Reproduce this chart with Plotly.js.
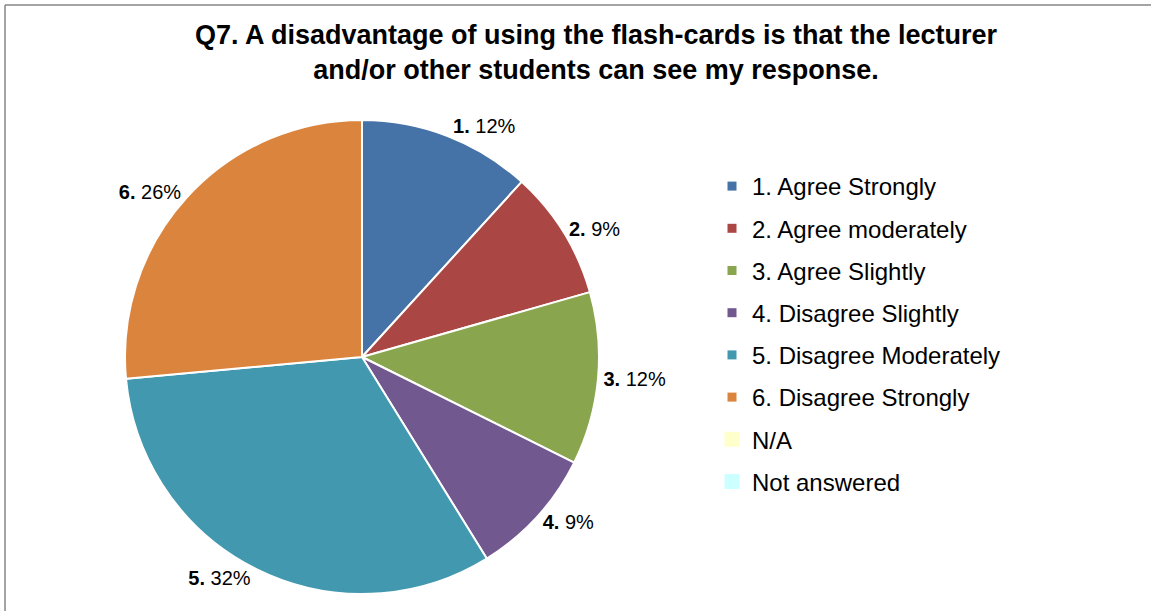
<!DOCTYPE html>
<html>
<head>
<meta charset="utf-8">
<script src="https://cdn.plot.ly/plotly-3.0.1.min.js"></script>
<style>html,body{margin:0;padding:0;background:#fff;}#chart{width:1151px;height:611px;}</style>
</head>
<body>
<div id="chart"></div>
<script>
// ---- data ----
const categories = ["1. Agree Strongly", "2. Agree moderately", "3. Agree Slightly", "4. Disagree Slightly", "5. Disagree Moderately", "6. Disagree Strongly", "N/A", "Not answered"];
const shortLabels = ["1.", "2.", "3.", "4.", "5.", "6.", "", ""];
const counts = [4, 3, 4, 3, 11, 9, 0, 0];
const colors = ["#4572A7", "#AA4643", "#89A54E", "#71588F", "#4198AF", "#DB843D", "#FFFFCC", "#CCFFFF"];
const legendSizes = [9, 9, 9, 9, 9, 9, 15, 15];

const FONT = "Liberation Sans, Arial, sans-serif";

const textTemplates = counts.map((v, i) => v > 0 ? "<b>" + shortLabels[i] + "</b> %{percent:.0%}" : "");

const traces = [{
  type: "pie",
  labels: categories,
  values: counts,
  marker: {colors: colors, line: {color: "#ffffff", width: 2}},
  sort: false,
  direction: "clockwise",
  rotation: 0,
  texttemplate: textTemplates,
  textposition: "outside",
  textfont: {family: FONT, size: 20, color: "#000"},
  outsidetextfont: {family: FONT, size: 20, color: "#000"},
  hoverinfo: "none",
  showlegend: false,
  domain: {x: [125/1151, 599/1151], y: [17/611, 491/611]}
}];

categories.forEach((c, i) => {
  traces.push({
    type: "scatter",
    mode: "markers",
    x: [null], y: [null],
    name: c,
    legendgroup: "g" + i,
    marker: {symbol: "square", size: legendSizes[i], color: colors[i], line: {width: 0}},
    hoverinfo: "none",
    showlegend: true
  });
});

const layout = {
  width: 1151, height: 611,
  margin: {l: 0, r: 0, t: 0, b: 0},
  paper_bgcolor: "#ffffff",
  plot_bgcolor: "rgba(0,0,0,0)",
  font: {family: FONT, color: "#000"},
  title: {
    text: "<b>Q7. A disadvantage of using the flash-cards is that the lecturer<br>and/or other students can see my response.</b>",
    font: {family: FONT, size: 27, color: "#000"},
    x: 596/1151, xanchor: "center",
    y: 1 - 44/611, yanchor: "top",
    xref: "paper", yref: "paper"
  },
  xaxis: {visible: false},
  yaxis: {visible: false},
  showlegend: true,
  legend: {
    x: 712/1151, xanchor: "left",
    y: 1 - 164/611, yanchor: "top",
    font: {family: FONT, size: 24, color: "#000"},
    tracegroupgap: 8,
    bgcolor: "rgba(0,0,0,0)"
  },
  shapes: [
    {type: "line", xref: "paper", yref: "paper", x0: 5/1151, x1: 1, y0: 1 - 5/611, y1: 1 - 5/611, line: {color: "#868686", width: 1.5}},
    {type: "line", xref: "paper", yref: "paper", x0: 5/1151, x1: 5/1151, y0: 0, y1: 1 - 5/611, line: {color: "#868686", width: 1.5}}
  ]
};

Plotly.newPlot("chart", traces, layout, {displayModeBar: false, staticPlot: true});
</script>
</body>
</html>
